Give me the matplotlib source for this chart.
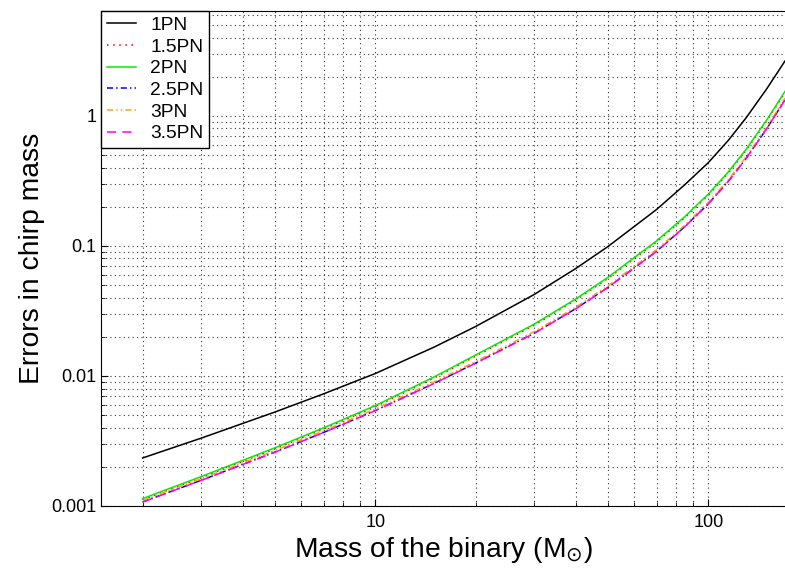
import matplotlib
matplotlib.use("Agg")
import matplotlib.pyplot as plt

plt.rcParams['font.family'] = ['Liberation Sans', 'DejaVu Sans']

mass = [2, 3, 5, 7, 10, 15, 20, 30, 40, 50, 70, 85, 100, 115, 130, 150, 170]

err_1pn = [0.00234, 0.003325, 0.005284, 0.007292, 0.01044, 0.01664, 0.02398, 0.0423, 0.0670,
           0.0990, 0.1909, 0.2955, 0.4364, 0.650, 0.968, 1.621, 2.641]
err_15pn = [0.001117, 0.001649, 0.002749, 0.003914, 0.005796, 0.009622, 0.01419, 0.02453,
            0.03832, 0.05625, 0.1073, 0.1645, 0.245, 0.3649, 0.5436, 0.9163, 1.512]
err_2pn = [0.00114, 0.001683, 0.002805, 0.003994, 0.005914, 0.009818, 0.01448, 0.02503,
           0.0391, 0.0574, 0.1095, 0.1679, 0.250, 0.3723, 0.5547, 0.935, 1.543]
err_25pn = [0.001074, 0.001577, 0.0026, 0.003681, 0.005421, 0.008755, 0.01255, 0.02132,
            0.03291, 0.04803, 0.09107, 0.1405, 0.2104, 0.3152, 0.4724, 0.801, 1.33]
err_3pn = [0.001104, 0.001621, 0.002673, 0.003784, 0.005573, 0.009, 0.0129, 0.02192,
           0.03383, 0.04937, 0.09362, 0.1444, 0.2163, 0.324, 0.4856, 0.8234, 1.367]
err_35pn = [0.001072, 0.001574, 0.002595, 0.003674, 0.005411, 0.008738, 0.012525, 0.02128,
            0.03284, 0.04793, 0.09089, 0.1402, 0.210, 0.3146, 0.4715, 0.7994, 1.327]

fig = plt.figure(figsize=(7.85, 5.68), dpi=100)
ax = fig.add_axes([0.1287, 0.1092, 0.8713, 0.8714])

ax.plot(mass, err_1pn, color="black", lw=1.1, label="1PN")
ax.plot(mass, err_15pn, color="red", lw=1.1, linestyle=(0, (1, 3)), label="1.5PN")
ax.plot(mass, err_2pn, color="#00ee00", lw=1.1, label="2PN")
ax.plot(mass, err_25pn, color="blue", lw=1.1, linestyle=(0, (4, 2, 1, 2)), label="2.5PN")
ax.plot(mass, err_3pn, color="orange", lw=1.1, linestyle=(0, (4, 2, 1, 2, 1, 2)), label="3PN")
ax.plot(mass, err_35pn, color="magenta", lw=1.1, linestyle=(0, (6, 4)), label="3.5PN")

ax.set_xscale("log")
ax.set_yscale("log")
ax.set_xlim(1.5, 170)
ax.set_ylim(0.001, 6.4)

ax.set_xticks([10, 100])
ax.set_xticklabels(["10", "100"])
ax.set_yticks([0.001, 0.01, 0.1, 1])
ax.set_yticklabels(["0.001", "0.01", "0.1", "1"])

ax.grid(True, which="both", linestyle=(0, (1, 3)), color="black", lw=0.8, alpha=0.8)
ax.set_axisbelow(True)
ax.tick_params(which="both", direction="in", labelsize=13)
ax.tick_params(axis="x", pad=6)
ax.tick_params(which="major", length=5)
ax.tick_params(which="minor", length=3)
ax.spines["right"].set_visible(False)

ax.set_xlabel("Mass of the binary (M$_{\\odot}$)", fontsize=20.3, labelpad=3)
ax.set_ylabel("Errors in chirp mass", fontsize=20.3, labelpad=4)

leg = ax.legend(loc="upper left", fontsize=13.8, frameon=True, fancybox=False,
                borderaxespad=0, handlelength=1.5, labelspacing=0.22,
                borderpad=0.3, handletextpad=0.78)
leg.get_frame().set_edgecolor("black")
leg.get_frame().set_alpha(1)

fig.savefig("out.png", dpi=100)
